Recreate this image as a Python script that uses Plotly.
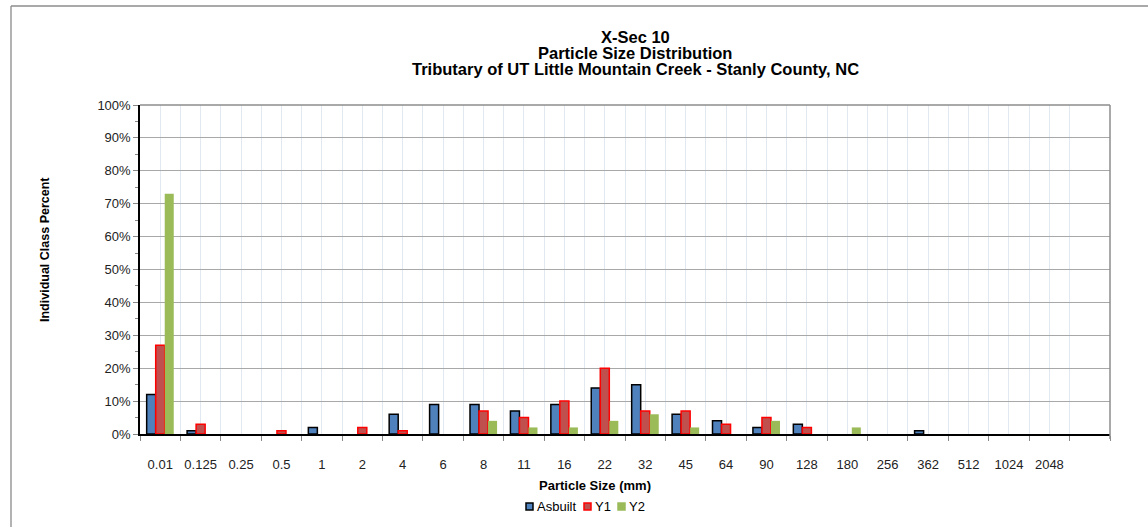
import plotly.graph_objects as go

sizes = ["0.01", "0.125", "0.25", "0.5", "1", "2", "4", "6", "8", "11", "16", "22",
         "32", "45", "64", "90", "128", "180", "256", "362", "512", "1024", "2048"]
asbuilt = [12, 1, 0, 0, 2, 0, 6, 9, 9, 7, 9, 14, 15, 6, 4, 2, 3, 0, 0, 1, 0, 0, 0]
y1 = [27, 3, 0, 1, 0, 2, 1, 0, 7, 5, 10, 20, 7, 7, 3, 5, 2, 0, 0, 0, 0, 0, 0]
y2 = [73, 0, 0, 0, 0, 0, 0, 0, 4, 2, 2, 4, 6, 2, 0, 4, 0, 2, 0, 0, 0, 0, 0]

xpos = list(range(len(sizes)))


def pct(vals):
    # zero classes are left empty so no outline is drawn on the axis
    return [v / 100 if v else None for v in vals]


fig = go.Figure()
fig.add_trace(go.Bar(x=xpos, y=pct(asbuilt), name="Asbuilt",
                     marker=dict(color="#4F81BD", line=dict(color="#000000", width=1.5))))
fig.add_trace(go.Bar(x=xpos, y=pct(y1), name="Y1",
                     marker=dict(color="#C0504D", line=dict(color="#FF0000", width=1.5))))
fig.add_trace(go.Bar(x=xpos, y=pct(y2), name="Y2",
                     marker=dict(color="#9BBB59", line=dict(width=0))))


# plot area: x 140..1110, y 105..434
def px(x):
    return (x - 140) / 970.0


def py(y):
    return (434 - y) / 329.0


title_lines = ["X-Sec 10", "Particle Size Distribution",
               "Tributary of UT Little Mountain Creek - Stanly County, NC"]
annotations = []
for i, t in enumerate(title_lines):
    annotations.append(dict(text="<b>" + t + "</b>", xref="paper", yref="paper",
                            x=px(635), y=py(37 + 16 * i), xanchor="center", yanchor="middle",
                            showarrow=False, font=dict(size=16.5, color="#000000")))
annotations.append(dict(text="<b>Individual Class Percent</b>", textangle=-90,
                        xref="paper", yref="paper", x=px(45), y=py(250),
                        xanchor="center", yanchor="middle",
                        showarrow=False, font=dict(size=12.5, color="#000000")))
annotations.append(dict(text="<b>Particle Size (mm)</b>",
                        xref="paper", yref="paper", x=px(595), y=py(486),
                        xanchor="center", yanchor="middle",
                        showarrow=False, font=dict(size=13, color="#000000")))

# hand-made legend (small squares like the original)
legend_items = [("Asbuilt", "#4F81BD", "#000000", 526),
                ("Y1", "#C0504D", "#FF0000", 584),
                ("Y2", "#9BBB59", "#9BBB59", 618)]
shapes = [
    dict(type="line", xref="paper", yref="paper", x0=0, x1=1, y0=1, y1=1,
         line=dict(color="#8C8C8C", width=1.5)),
    dict(type="line", xref="paper", yref="paper", x0=1, x1=1, y0=py(439), y1=1,
         line=dict(color="#8C8C8C", width=1.5)),
    dict(type="line", xref="paper", yref="paper", x0=px(11), x1=px(11), y0=py(540), y1=py(6),
         line=dict(color="#9A9A9A", width=1.5)),
    dict(type="line", xref="paper", yref="paper", x0=px(11), x1=px(1160), y0=py(6), y1=py(6),
         line=dict(color="#8C8C8C", width=1.5)),
]
for name, fill, edge, x0 in legend_items:
    shapes.append(dict(type="rect", xref="paper", yref="paper",
                       x0=px(x0), x1=px(x0 + 7), y0=py(510), y1=py(503),
                       fillcolor=fill, line=dict(color=edge, width=1.5)))
    annotations.append(dict(text=name, xref="paper", yref="paper", x=px(x0 + 9), y=py(506.5),
                            xanchor="left", yanchor="middle", showarrow=False,
                            font=dict(size=13, color="#000000")))

fig.update_layout(
    width=1148, height=527,
    margin=dict(l=140, r=38, t=105, b=93),
    paper_bgcolor="white", plot_bgcolor="white",
    font=dict(family="Liberation Sans, Arial", size=13, color="#222222"),
    barmode="group", bargap=0.33, bargroupgap=0,
    showlegend=False,
    xaxis=dict(
        range=[-0.5, 23.5], tickvals=xpos, ticktext=sizes, ticks="",
        showgrid=True, gridcolor="#E2E8F0", gridwidth=1,
        showline=True, linecolor="#000000", linewidth=1.5,
        ticklabelstandoff=18, tickfont=dict(size=13, color="#222222"),
        minor=dict(tick0=-0.5, dtick=1, ticks="outside", ticklen=5, tickcolor="#888888",
                   showgrid=True, gridcolor="#E2E8F0", gridwidth=1),
        zeroline=False,
    ),
    yaxis=dict(
        range=[0, 1], tickformat=".0%", dtick=0.1,
        showgrid=True, gridcolor="#A8A8A8", gridwidth=1,
        showline=True, linecolor="#000000", linewidth=1.5,
        ticks="outside", ticklen=5, tickcolor="#888888",
        minor=dict(dtick=0.05, ticks="outside", ticklen=3, tickcolor="#888888", showgrid=False),
        tickfont=dict(size=13, color="#222222"), zeroline=False,
    ),
    annotations=annotations,
    shapes=shapes,
)

fig.write_html("out.html", config={"displayModeBar": False},
               post_script="document.body.style.margin='0';")
